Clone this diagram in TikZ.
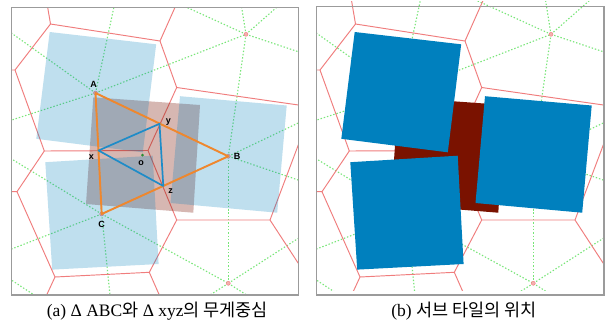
\documentclass[tikz,border=0pt]{standalone}
\usepackage{fontspec}
\setmainfont{Liberation Serif}
\setsansfont{Liberation Sans}
\newfontfamily\krfont{Noto Sans CJK KR}
\definecolor{vorred}{RGB}{240,125,125}
\definecolor{delgreen}{RGB}{120,230,120}
\definecolor{tileblue}{RGB}{0,128,190}
\definecolor{tilered}{RGB}{122,18,0}
\definecolor{triorange}{RGB}{240,135,45}
\definecolor{triblue}{RGB}{30,140,200}
\definecolor{framegray}{RGB}{155,155,155}
\definecolor{sitepink}{RGB}{245,175,175}
\definecolor{centgreen}{RGB}{40,140,50}
\tikzset{
  vorline/.style={draw=vorred, line width=0.95pt},
  delline/.style={draw=delgreen, line width=1.1pt, dash pattern=on 1.4pt off 1.9pt},
  panelframe/.style={draw=framegray, line width=1.3pt},
  sitedot/.style={circle, fill=sitepink, draw=vorred, line width=0.4pt, minimum size=4pt, inner sep=0pt},
  lbl/.style={font=\sffamily\bfseries\fontsize{9}{10}\selectfont, inner sep=0pt},
  captext/.style={font=\fontsize{17.5}{19}\selectfont, inner sep=0pt},
  tritri/.style={line width=1.9pt, line join=round},
}
\newcommand{\drawtiling}{%
  \coordinate (A) at (95.5,93);
  \coordinate (B) at (228.3,156.3);
  \coordinate (C) at (101.7,214);
  \coordinate (S1) at (246,34.3);
  \coordinate (S2) at (228.3,283.3);
  \coordinate (V1) at (50.5,24);
  \coordinate (V2) at (160,41);
  \coordinate (V3) at (15,70);
  \coordinate (V4) at (176.7,87.5);
  \coordinate (Vo) at (148,150.5);
  \coordinate (Vx) at (44.3,151);
  \coordinate (V9) at (17,191.7);
  \coordinate (V7) at (55,277);
  \coordinate (V8) at (149.3,272.3);
  \coordinate (V5) at (176.7,220);
  \coordinate (V6) at (270,220);
  % Delaunay edges
  \draw[delline] (A) -- (117.6,-10);
  \draw[delline] (A) -- (-10,17.8);
  \draw[delline] (A) -- (-10,127);
  \draw[delline] (A) -- (S1);
  \draw[delline] (A) -- (B);
  \draw[delline] (A) -- (C);
  \draw[delline] (S1) -- (148.7,-10);
  \draw[delline] (S1) -- (238.9,-10);
  \draw[delline] (S1) -- (296.4,-10);
  \draw[delline] (S1) -- (310,55.6);
  \draw[delline] (S1) -- (B);
  \draw[delline] (B) -- (310,117.4);
  \draw[delline] (B) -- (310,184);
  \draw[delline] (B) -- (C);
  \draw[delline] (B) -- (S2);
  \draw[delline] (C) -- (-10,145.8);
  \draw[delline] (C) -- (-10,257.4);
  \draw[delline] (C) -- (111.5,310);
  \draw[delline] (C) -- (S2);
  \draw[delline] (S2) -- (310,230.8);
  \draw[delline] (S2) -- (186.6,310);
  \draw[delline] (S2) -- (270.2,310);
  \draw[delline] (-10,266) -- (50,305.4);
  % Voronoi edges
  \draw[vorline] (45.6,-5) -- (V1) -- (V2) -- (180.5,-5);
  \draw[vorline] (V1) -- (V3) -- (-5,70);
  \draw[vorline] (V3) -- (Vx) -- (Vo) -- (V4) -- (V2);
  \draw[vorline] (V4) -- (320,108.1);
  \draw[vorline] (Vx) -- (V9) -- (-5,191.7);
  \draw[vorline] (V9) -- (V7) -- (V8) -- (V5) -- (Vo);
  \draw[vorline] (V7) -- (42,305);
  \draw[vorline] (V8) -- (163.7,305);
  \draw[vorline] (V5) -- (V6) -- (307.7,120);
  \draw[vorline] (V6) -- (320,296.5);
  % sites
  \foreach \s in {A,B,C,S1,S2} \node[sitedot] (dot\s) at (\s) {};
}
\newcommand{\drawtiles}[2]{%
  \fill[tilered, fill opacity=#2] (93.3,97.3) -- (200,105) -- (193.3,212.7) -- (86,204) -- cycle;
  \fill[tileblue, fill opacity=#1] (49.7,32) -- (156.2,44.3) -- (142.8,152.3) -- (36.3,138.8) -- cycle;
  \fill[tileblue, fill opacity=#1] (45.3,162.2) -- (152.7,155.7) -- (158.6,264) -- (52.2,269.6) -- cycle;
  \fill[tileblue, fill opacity=#1] (180,96.2) -- (286.7,105.5) -- (277.2,212.7) -- (170.5,203) -- cycle;
}
\begin{document}
\begin{tikzpicture}[x=1pt,y=-1pt]
\useasboundingbox[fill=white] (0,0) rectangle (607,325);
% ---------- panel (a)
\begin{scope}
  \clip (11.7,7.3) rectangle (298.5,295);
  \drawtiling
  \drawtiles{0.25}{0.3}
  \coordinate (x) at (98.5,150.5);
  \coordinate (y) at (159.5,123.8);
  \coordinate (z) at (163.3,186);
  \draw[tritri, triorange] (A) -- (B) -- (C) -- cycle;
  \draw[tritri, triblue, line width=1.7pt] (x) -- (y) -- (z) -- cycle;
  \node[circle, fill=centgreen, minimum size=3pt, inner sep=0pt] (o) at (142.5,155) {};
  \node[lbl] (lA) at (93.5,84.5) {A};
  \node[lbl] (lB) at (237,156) {B};
  \node[lbl] (lC) at (101.7,224.5) {C};
  \node[lbl] (lx) at (91.5,157) {x};
  \node[lbl] (ly) at (168.5,122) {y};
  \node[lbl] (lz) at (170.5,191) {z};
  \node[lbl] (lo) at (141,163) {o};
\end{scope}
\draw[panelframe] (11.7,7.3) rectangle (298.5,295);
% ---------- panel (b)
\begin{scope}[xshift=305pt]
  \clip (11.7,1) rectangle (299,290);
  \drawtiling
  \drawtiles{1}{1}
\end{scope}
\draw[panelframe] (316.7,6.5) rectangle (604,295);
% ---------- captions
\node[captext] (capa) at (157.5,311.5) {(a) Δ ABC{\krfont 와} Δ xyz{\krfont 의 무게중심}};
\node[captext] (capb) at (464,311.5) {(b) {\krfont 서브 타일의 위치}};
\end{tikzpicture}
\end{document}
